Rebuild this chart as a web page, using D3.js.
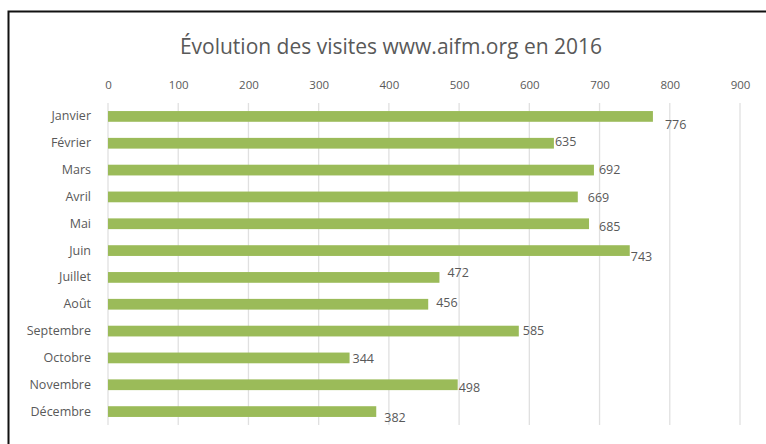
<!DOCTYPE html>
<html>
<head>
<meta charset="utf-8">
<script src="https://cdn.jsdelivr.net/npm/d3@7"></script>
<style>
  body { margin: 0; background: #fff; }
  text { font-family: "Open Sans", "Noto Sans", sans-serif; fill: #595959; }
</style>
</head>
<body>
<svg id="chart" width="766" height="444"></svg>
<script>
let months = ["Janvier", "Février", "Mars", "Avril", "Mai", "Juin", "Juillet",
              "Août", "Septembre", "Octobre", "Novembre", "Décembre"],
  visits = [776, 635, 692, 669, 685, 743, 472, 456, 585, 344, 498, 382],
  ticks = [0, 100, 200, 300, 400, 500, 600, 700, 800, 900],
  title = "Évolution des visites www.aifm.org en 2016";

// label offsets copied from the original (Excel placed them a bit loosely)
let labelNudge = [[12, 8], [1, -2], [5, 0], [10, 1], [10, 3], [1, 6],
                  [8, -5], [8, -2], [4, 0], [3, 1], [1, 3], [8, 6]];

let width = 766,
  height = 444,
  margins = {left: 108, right: 26, top: 103, bottom: 19};

let svg = d3.select("#chart");

// frame (only top and left edges are visible in the picture)
svg.append("path")
  .attr("d", `M8.5,${height} V11.5 H${width}`)
  .attr("fill", "none")
  .attr("stroke", "#111")
  .attr("stroke-width", 2);

let x = d3.scaleLinear().domain([0, 900]).range([margins.left, width - margins.right]),
  y = d3.scaleBand().domain(months).range([margins.top, height - margins.bottom]).paddingInner(0.6).paddingOuter(0.3);

svg.append("text")
  .text(title)
  .attr("x", 391)
  .attr("y", 54)
  .attr("text-anchor", "middle")
  .style("font-size", "21px");

// grid
svg.append("g")
  .selectAll("line")
  .data(ticks).enter()
  .append("line")
  .attr("x1", d => x(d)).attr("x2", d => x(d))
  .attr("y1", margins.top).attr("y2", height - margins.bottom)
  .attr("stroke", "#e0e0e0")
  .attr("stroke-width", 1.3);

let xAxis = svg.append("g")
  .attr("transform", `translate(0, ${margins.top})`)
  .call(d3.axisTop(x).tickValues(ticks).tickSize(0).tickPadding(14));
xAxis.select(".domain").remove();
xAxis.selectAll("text").style("font-size", "11.5px").attr("fill", "#595959");

let yAxis = svg.append("g")
  .attr("transform", `translate(${margins.left - 15}, 0)`)
  .call(d3.axisLeft(y).tickSize(0).tickPadding(2));
yAxis.select(".domain").remove();
yAxis.selectAll("text").style("font-size", "12.5px").attr("fill", "#595959");

let rows = months.map((m, i) => ({month: m, value: visits[i], nudge: labelNudge[i]}));

svg.append("g")
  .selectAll("rect")
  .data(rows).enter()
  .append("rect")
  .attr("x", x(0))
  .attr("y", d => y(d.month))
  .attr("width", d => x(d.value) - x(0))
  .attr("height", y.bandwidth())
  .attr("fill", "#9bbb59");

svg.append("g")
  .selectAll("text")
  .data(rows).enter()
  .append("text")
  .text(d => d.value)
  .attr("x", d => x(d.value) + d.nudge[0])
  .attr("y", d => y(d.month) + y.bandwidth() / 2 + d.nudge[1])
  .attr("dy", "0.35em")
  .style("font-size", "12.5px");
</script>
</body>
</html>
